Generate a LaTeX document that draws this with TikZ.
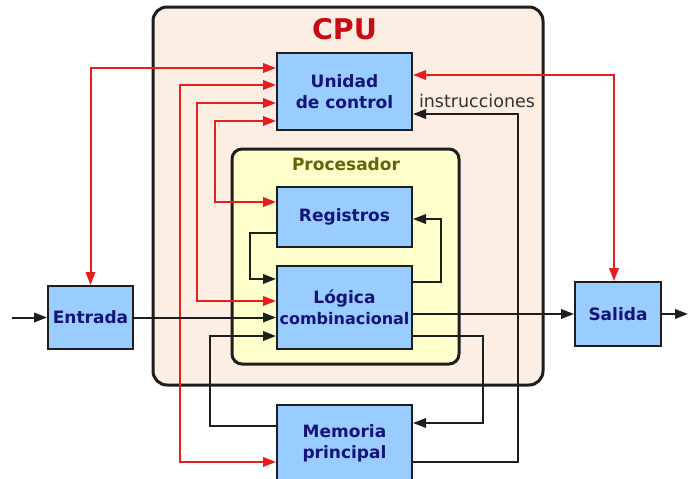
\documentclass[tikz,border=0pt]{standalone}
\usepackage{fontspec}
\setmainfont{DejaVu Sans}
\usetikzlibrary{arrows.meta}
\definecolor{cpufill}{RGB}{253,238,228}
\definecolor{procfill}{RGB}{255,255,204}
\definecolor{boxfill}{RGB}{153,204,255}
\definecolor{boxtext}{RGB}{20,20,120}
\definecolor{linkred}{RGB}{230,30,30}
\definecolor{cputext}{RGB}{200,10,20}
\definecolor{proctext}{RGB}{100,100,10}
\definecolor{linkblack}{RGB}{30,30,30}
\begin{document}
\begin{tikzpicture}[x=1pt,y=-1pt,
  container/.style={draw=linkblack, line width=3pt, inner sep=0pt},
  unitbox/.style={draw=linkblack, line width=2pt, fill=boxfill, inner sep=0pt,
    align=center, text=boxtext, font=\fontsize{17}{21.5}\selectfont\bfseries},
  rconn/.style={draw=linkred, line width=2pt},
  bconn/.style={draw=linkblack, line width=2pt},
  endarrow/.style={-{Triangle[length=13pt,width=9.5pt]}},
  bothends/.style={{Triangle[length=13pt,width=9.5pt]}-{Triangle[length=13pt,width=9.5pt]}},
  ]
\useasboundingbox (0,0) rectangle (688,479);
\fill[white] (0,0) rectangle (688,479);

% containers
\node[container, fill=cpufill, minimum width=390, minimum height=378, rounded corners=14pt] (cpu) at (348,196) {};
\node[container, fill=procfill, minimum width=227, minimum height=215, rounded corners=10pt] (proc) at (345.5,256.5) {};
\node[anchor=base, text=cputext, font=\fontsize{28.5}{30}\selectfont\bfseries] (cputitle) at (344.5,39) {CPU};
\node[anchor=base, text=proctext, font=\fontsize{17}{18}\selectfont\bfseries] (proctitle) at (346,170) {Procesador};

% helper coordinates
\coordinate (h68) at (0,68);
\coordinate (h85) at (0,85);
\coordinate (h103) at (0,103);
\coordinate (h121) at (0,121);
\coordinate (h75) at (0,75);
\coordinate (h233) at (0,233);
\coordinate (h282) at (0,282);
\coordinate (h336) at (0,336);
\coordinate (h426) at (0,426);
\coordinate (h462) at (0,462);
\coordinate (c2) at (180,462);
\coordinate (c3) at (197,301);
\coordinate (c4) at (215,202);
\coordinate (c5) at (614,282);
\coordinate (b5) at (250,279);
\coordinate (b6) at (441,219);
\coordinate (b7) at (210,336);
\coordinate (b8) at (483,423);
\coordinate (b9) at (518,114);
\coordinate (inp) at (12,317.5);
\coordinate (outp) at (688,314);

% units
\path (344.5,91.5) node[unitbox, minimum width=135, minimum height=77] (uc) {Unidad\\de control};
\path (344.5,217) node[unitbox, minimum width=135, minimum height=60] (rg) {Registros};
\path (344.5,307.5) node[unitbox, minimum width=135, minimum height=83] (lc) {Lógica\\{\fontsize{16}{21.5}\selectfont combinacional}};
\path (344.5,443.5) node[unitbox, minimum width=135, minimum height=77] (mem) {Memoria\\principal};
\path (90.5,317.5) node[unitbox, minimum width=85, minimum height=63] (ent) {Entrada};
\path (618,314) node[unitbox, minimum width=86, minimum height=64] (sal) {Salida};

% red connectors
\draw[rconn, bothends] (ent.north) |- (uc.west |- h68);
\draw[rconn, bothends] (uc.west |- h85) -| (c2) -- (mem.west |- c2);
\draw[rconn, bothends] (uc.west |- h103) -| (c3) -- (lc.west |- c3);
\draw[rconn, bothends] (uc.west |- h121) -| (c4) -- (rg.west |- c4);
\draw[rconn, bothends] (uc.east |- h75) -| (sal.north -| c5);

% black connectors
\draw[bconn, endarrow] (inp) -- (ent.west);
\draw[bconn, endarrow] (ent.east) -- (lc.west |- ent.east);
\draw[bconn, endarrow] (lc.east |- sal.west) -- (sal.west);
\draw[bconn, endarrow] (sal.east) -- (outp);
\draw[bconn, endarrow] (rg.west |- h233) -| (b5) -- (lc.west |- b5);
\draw[bconn, endarrow] (lc.east |- h282) -| (b6) -- (rg.east |- b6);
\draw[bconn, endarrow] (mem.west |- h426) -| (b7) -- (lc.west |- b7);
\draw[bconn, endarrow] (lc.east |- h336) -| (b8) -- (mem.east |- b8);
\draw[bconn, endarrow] (mem.east |- h462) -| (b9) -- (uc.east |- b9);
\node[anchor=base, text=black!80, font=\fontsize{17.5}{18}\selectfont] (instr) at (477,107) {instrucciones};

\end{tikzpicture}
\end{document}
